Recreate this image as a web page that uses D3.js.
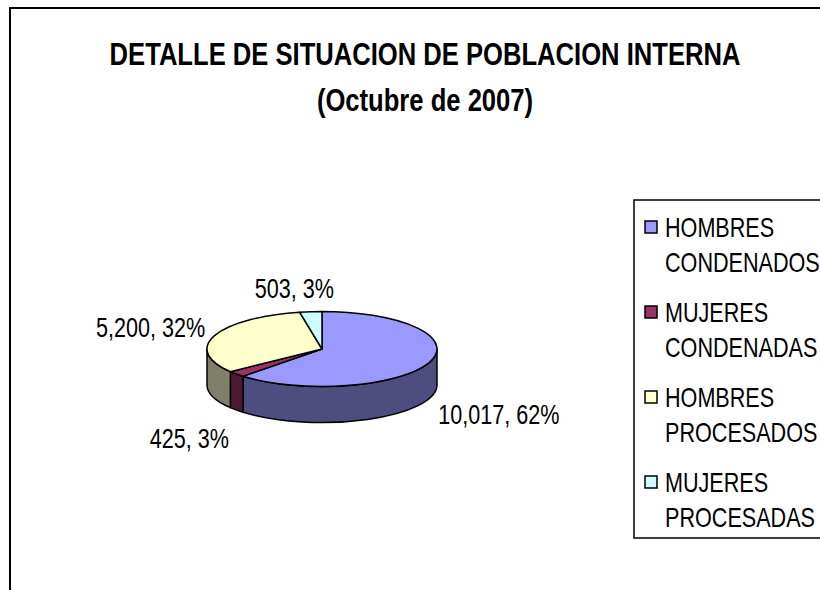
<!DOCTYPE html>
<html>
<head>
<meta charset="utf-8">
<script src="https://cdn.jsdelivr.net/npm/d3@7"></script>
<style>
	body { margin: 0; background: #fff; }
	svg text { font-family: 'Liberation Sans', Arial, sans-serif; fill: #000; }
</style>
</head>
<body>
<svg id="chart"></svg>
<script>
// data
const categories = ['HOMBRES CONDENADOS', 'MUJERES CONDENADAS', 'HOMBRES PROCESADOS', 'MUJERES PROCESADAS']
const values = [10017, 425, 5200, 503]
const topColors = ['#9999ff', '#993366', '#ffffcc', '#ccffff']
const sideColors = ['#4d4d80', '#4d1a33', '#80806a', '#668080']
const titleLines = ['DETALLE DE SITUACION DE POBLACION INTERNA', '(Octubre de 2007)']

const WIDTH = 820
const HEIGHT = 590
const PIE = {cx: 322, cy: 349, rx: 115, ry: 37.5, depth: 36}
const FONT = 27
const SQUEEZE = 0.8 // the source text is tall and narrow
const TITLE_FONT = 32
const TITLE_SQUEEZE = 0.8

const svg = d3.select('#chart')
	.attr('width', WIDTH)
	.attr('height', HEIGHT)

// outer chart frame (right / bottom edges fall outside the picture)
svg.append('path')
	.attr('d', `M 10 ${HEIGHT + 5} L 10 8 L ${WIDTH + 5} 8`)
	.attr('fill', 'none')
	.attr('stroke', '#000')
	.attr('stroke-width', 2)

// title
svg.append('g').selectAll('text')
	.data(titleLines)
	.join('text')
	.attr('transform', (d, i) => `translate(425, ${65 + i * 46}) scale(${TITLE_SQUEEZE}, 1)`)
	.attr('text-anchor', 'middle')
	.style('font-size', `${TITLE_FONT}px`)
	.style('font-weight', 'bold')
	.text(d => d)

const color = d3.scaleOrdinal().domain(categories).range(topColors)
const sideColor = d3.scaleOrdinal().domain(categories).range(sideColors)

const arcs = d3.pie().sort(null).value(d => d)(values)
arcs.forEach((a, i) => { a.name = categories[i] })
const total = d3.sum(values)

// point on the pie ellipse, angle clockwise from 12 o'clock
const pt = (a, dy = 0) => [PIE.cx + PIE.rx * Math.sin(a), PIE.cy - PIE.ry * Math.cos(a) + dy]

function topPath (a) {
	const p0 = pt(a.startAngle)
	const p1 = pt(a.endAngle)
	const large = a.endAngle - a.startAngle > Math.PI ? 1 : 0
	return `M ${PIE.cx} ${PIE.cy} L ${p0} A ${PIE.rx} ${PIE.ry} 0 ${large} 1 ${p1} Z`
}

function wallPath (a) {
	// only the front half of the rim shows
	const b0 = Math.max(a.startAngle, Math.PI / 2)
	const b1 = Math.min(a.endAngle, Math.PI * 1.5)
	if (b1 <= b0) return null
	return `M ${pt(b0)} A ${PIE.rx} ${PIE.ry} 0 0 1 ${pt(b1)}
		L ${pt(b1, PIE.depth)} A ${PIE.rx} ${PIE.ry} 0 0 0 ${pt(b0, PIE.depth)} Z`
}

const pie = svg.append('g')

pie.selectAll('path.wall')
	.data(arcs.filter(a => wallPath(a)))
	.join('path')
	.attr('class', 'wall')
	.attr('d', wallPath)
	.attr('fill', d => sideColor(d.name))
	.attr('stroke', '#000')
	.attr('stroke-width', 1.5)
	.attr('stroke-linejoin', 'round')

pie.selectAll('path.slice')
	.data(arcs)
	.join('path')
	.attr('class', 'slice')
	.attr('d', topPath)
	.attr('fill', d => color(d.name))
	.attr('stroke', '#000')
	.attr('stroke-width', 1.5)
	.attr('stroke-linejoin', 'round')

// data labels: "value, percent" placed outside the rim
const fmt = d3.format(',')
const pct = d3.format('.0%')
const labels = svg.append('g').selectAll('text')
	.data(arcs)
	.join('text')
	.attr('text-anchor', 'middle')
	.style('font-size', `${FONT}px`)
	.text(d => `${fmt(d.value)}, ${pct(d.value / total)}`)

labels.attr('transform', function (d) {
	const mid = (d.startAngle + d.endAngle) / 2
	const s = Math.sin(mid)
	const c = Math.cos(mid)
	const front = c < 0
	const w = this.getComputedTextLength() * SQUEEZE
	// push the label box away from the rim, less so near the vertical
	const lean = Math.max(-1, Math.min(1, s * 4))
	const x = PIE.cx + s * (PIE.rx + 10) + lean * w / 2
	const y = PIE.cy - c * (PIE.ry + (front ? 43 : 24)) + (front ? PIE.depth : 0) + FONT * 0.36
	return `translate(${x}, ${y}) scale(${SQUEEZE}, 1)`
})

// legend
const legend = svg.append('g')
legend.append('rect')
	.attr('x', 634)
	.attr('y', 200)
	.attr('width', 220)
	.attr('height', 338)
	.attr('fill', '#fff')
	.attr('stroke', '#000')
	.attr('stroke-width', 1.5)

const item = legend.selectAll('g.item')
	.data(categories)
	.join('g')
	.attr('class', 'item')
	.attr('transform', (d, i) => `translate(645, ${227 + i * 85})`)

item.append('rect')
	.attr('x', 0)
	.attr('y', -6)
	.attr('width', 12)
	.attr('height', 12)
	.attr('fill', d => color(d))
	.attr('stroke', '#000')
	.attr('stroke-width', 1.5)

item.selectAll('text')
	.data(d => d.split(' '))
	.join('text')
	.attr('transform', (d, i) => `translate(20, ${10 + i * 35}) scale(${SQUEEZE}, 1)`)
	.style('font-size', `${FONT}px`)
	.text(d => d)
</script>
</body>
</html>
